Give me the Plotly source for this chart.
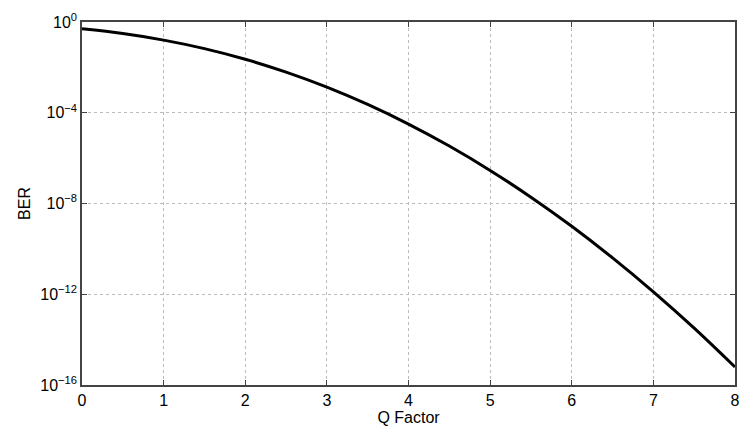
import plotly.graph_objects as go

q_factor = [0, 0.5, 1, 1.5, 2, 2.5, 3, 3.5, 4, 4.5, 5, 5.5, 6, 6.5, 7, 7.5, 8]
ber = [0.5, 0.31, 0.159, 0.067, 0.0228, 6.2e-3, 1.35e-3, 2.33e-4, 3.17e-5,
       3.4e-6, 2.87e-7, 1.9e-8, 9.9e-10, 4.0e-11, 1.28e-12, 3.2e-14, 6.2e-16]

y_tickvals = [1, 1e-4, 1e-8, 1e-12, 1e-16]
y_ticktext = ["10<sup>0</sup>", "10<sup>−4</sup>", "10<sup>−8</sup>", "10<sup>−12</sup>", "10<sup>−16</sup>"]
x_tickvals = [0, 1, 2, 3, 4, 5, 6, 7, 8]

fig = go.Figure()
fig.add_trace(go.Scatter(x=q_factor, y=ber, mode="lines",
                         line=dict(color="black", width=3, shape="spline"),
                         showlegend=False))

font = dict(family="Liberation Sans, Arial, sans-serif", size=16, color="black")

fig.update_layout(
    width=741, height=427,
    margin=dict(l=82, r=6, t=22, b=42, autoexpand=False),
    paper_bgcolor="white", plot_bgcolor="white",
    font=font,
)
fig.update_xaxes(range=[0, 8], tickvals=x_tickvals, automargin=False,
                 showline=True, linecolor="#444", linewidth=1.5, mirror="ticks",
                 ticks="inside", ticklen=5, tickcolor="#444",
                 showgrid=True, gridcolor="#bbb", griddash="dot", gridwidth=1,
                 zeroline=False, tickfont=font,
                 title=dict(text="Q Factor", font=font, standoff=2))
fig.update_yaxes(type="log", range=[-16, 0], tickvals=y_tickvals, ticktext=y_ticktext,
                 automargin=False,
                 showline=True, linecolor="#444", linewidth=1.5, mirror="ticks",
                 ticks="inside", ticklen=5, tickcolor="#444",
                 showgrid=True, gridcolor="#bbb", griddash="dot", gridwidth=1,
                 zeroline=False, tickfont=font,
                 title=dict(text="BER", font=font, standoff=6))

fig.write_html(
    "out.html",
    config={"displayModeBar": False},
    post_script="document.body.style.margin='0';document.body.style.overflow='hidden';",
)
